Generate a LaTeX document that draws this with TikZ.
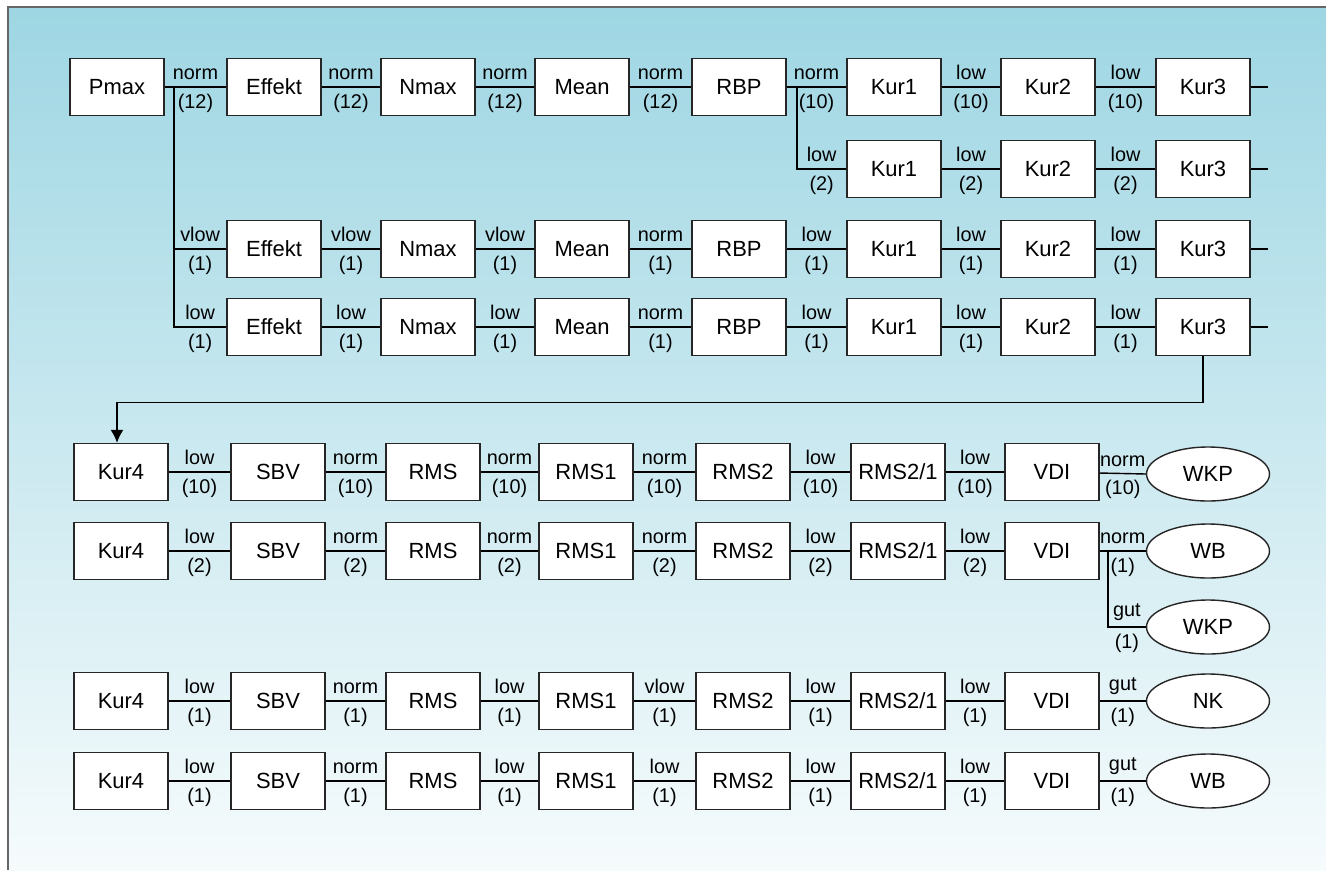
\documentclass[tikz,border=0pt]{standalone}
\usepackage{fontspec}
\setmainfont{Liberation Sans}
\usetikzlibrary{shapes.geometric,arrows.meta}
\newcommand{\blockfont}{\fontsize{12.5}{14}\selectfont}
\newcommand{\labfont}{\fontsize{11.3}{12}\selectfont}
\definecolor{bgtop}{RGB}{158,214,227}
\definecolor{bgmid}{RGB}{204,236,243}
\definecolor{bgbot}{RGB}{246,251,252}
\begin{document}
\begin{tikzpicture}[x=0.02cm, y=-0.02cm, line width=0.8pt, >={Latex[length=2.6mm,width=2.6mm]},
  block/.style={draw=black!85, fill=white, minimum width=1.88cm, minimum height=1.14cm, inner sep=0pt, font=\blockfont},
  result/.style={ellipse, draw=black!85, fill=white, minimum width=2.46cm, minimum height=1.08cm, inner sep=0pt, font=\blockfont},
  cls/.style={above, inner sep=3.5pt, font=\labfont},
  cnt/.style={below, inner sep=3.5pt, font=\labfont}]
\useasboundingbox (0,0) rectangle (1326,870);
% Hintergrund
\shade[top color=bgtop, middle color=bgmid, bottom color=bgbot] (8,7) rectangle (1326,870);
\draw[black!60] (8,870) -- (8,7) -- (1326,7);
% Zeile 1
\node[block] (pmax) at (117,87) {Pmax};
\node[block] (effa) at (274,87) {Effekt};
\node[block] (nmaxa) at (428,87) {Nmax};
\node[block] (meana) at (582,87) {Mean};
\node[block] (rbpa) at (739,87) {RBP};
\node[block] (kur1a) at (894,87) {Kur1};
\node[block] (kur2a) at (1048,87) {Kur2};
\node[block] (kur3a) at (1203,87) {Kur3};
\coordinate (enda) at (1268,87);
\draw (pmax) -- node[cls]{norm} node[cnt]{(12)} (effa);
\draw (effa) -- node[cls]{norm} node[cnt]{(12)} (nmaxa);
\draw (nmaxa) -- node[cls]{norm} node[cnt]{(12)} (meana);
\draw (meana) -- node[cls]{norm} node[cnt]{(12)} (rbpa);
\draw (rbpa) -- node[cls]{norm} node[cnt]{(10)} (kur1a);
\draw (kur1a) -- node[cls]{low} node[cnt]{(10)} (kur2a);
\draw (kur2a) -- node[cls]{low} node[cnt]{(10)} (kur3a);
\draw (kur3a) -- (enda);
% Zeile 2
\node[block] (kur1b) at (894,169) {Kur1};
\node[block] (kur2b) at (1048,169) {Kur2};
\node[block] (kur3b) at (1203,169) {Kur3};
\coordinate (jr) at (797,87);
\coordinate (endb) at (1268,169);
\draw (jr) |- node[cls,pos=.75]{low} node[cnt,pos=.75]{(2)} (kur1b);
\draw (kur1b) -- node[cls]{low} node[cnt]{(2)} (kur2b);
\draw (kur2b) -- node[cls]{low} node[cnt]{(2)} (kur3b);
\draw (kur3b) -- (endb);
% Zeile 3
\node[block] (effc) at (274,249) {Effekt};
\node[block] (nmaxc) at (428,249) {Nmax};
\node[block] (meanc) at (582,249) {Mean};
\node[block] (rbpc) at (739,249) {RBP};
\node[block] (kur1c) at (894,249) {Kur1};
\node[block] (kur2c) at (1048,249) {Kur2};
\node[block] (kur3c) at (1203,249) {Kur3};
\coordinate (jp) at (174,87);
\coordinate (endc) at (1268,249);
\draw (jp) |- node[cls,pos=.75]{vlow} node[cnt,pos=.75]{(1)} (effc);
\draw (effc) -- node[cls]{vlow} node[cnt]{(1)} (nmaxc);
\draw (nmaxc) -- node[cls]{vlow} node[cnt]{(1)} (meanc);
\draw (meanc) -- node[cls]{norm} node[cnt]{(1)} (rbpc);
\draw (rbpc) -- node[cls]{low} node[cnt]{(1)} (kur1c);
\draw (kur1c) -- node[cls]{low} node[cnt]{(1)} (kur2c);
\draw (kur2c) -- node[cls]{low} node[cnt]{(1)} (kur3c);
\draw (kur3c) -- (endc);
% Zeile 4
\node[block] (effd) at (274,327) {Effekt};
\node[block] (nmaxd) at (428,327) {Nmax};
\node[block] (meand) at (582,327) {Mean};
\node[block] (rbpd) at (739,327) {RBP};
\node[block] (kur1d) at (894,327) {Kur1};
\node[block] (kur2d) at (1048,327) {Kur2};
\node[block] (kur3d) at (1203,327) {Kur3};
\coordinate (endd) at (1268,327);
\draw (jp) |- node[cls,pos=.75]{low} node[cnt,pos=.75]{(1)} (effd);
\draw (effd) -- node[cls]{low} node[cnt]{(1)} (nmaxd);
\draw (nmaxd) -- node[cls]{low} node[cnt]{(1)} (meand);
\draw (meand) -- node[cls]{norm} node[cnt]{(1)} (rbpd);
\draw (rbpd) -- node[cls]{low} node[cnt]{(1)} (kur1d);
\draw (kur1d) -- node[cls]{low} node[cnt]{(1)} (kur2d);
\draw (kur2d) -- node[cls]{low} node[cnt]{(1)} (kur3d);
\draw (kur3d) -- (endd);
% Zeile 5
\node[block] (kur4e) at (121,472) {Kur4};
\node[block] (sbve) at (278,472) {SBV};
\node[block] (rmse) at (433,472) {RMS};
\node[block] (rms1e) at (586,472) {RMS1};
\node[block] (rms2e) at (743,472) {RMS2};
\node[block] (rms21e) at (898,472) {RMS2/1};
\node[block] (vdie) at (1052,472) {VDI};
\node[result] (wkpe) at (1208,474) {WKP};
\draw[->] (kur3d.south) -- ++(0,46) -| ([xshift=-0.08cm]kur4e.north);
\draw (kur4e) -- node[cls]{low} node[cnt]{(10)} (sbve);
\draw (sbve) -- node[cls]{norm} node[cnt]{(10)} (rmse);
\draw (rmse) -- node[cls]{norm} node[cnt]{(10)} (rms1e);
\draw (rms1e) -- node[cls]{norm} node[cnt]{(10)} (rms2e);
\draw (rms2e) -- node[cls]{low} node[cnt]{(10)} (rms21e);
\draw (rms21e) -- node[cls]{low} node[cnt]{(10)} (vdie);
\draw (vdie) -- node[cls]{norm} node[cnt]{(10)} (wkpe.west);
% Zeile 6
\node[block] (kur4f) at (121,551) {Kur4};
\node[block] (sbvf) at (278,551) {SBV};
\node[block] (rmsf) at (433,551) {RMS};
\node[block] (rms1f) at (586,551) {RMS1};
\node[block] (rms2f) at (743,551) {RMS2};
\node[block] (rms21f) at (898,551) {RMS2/1};
\node[block] (vdif) at (1052,551) {VDI};
\node[result] (wbf) at (1208,551) {WB};
\node[result] (wkpf) at (1208,627) {WKP};
\coordinate (jv) at (1108,551);
\draw (kur4f) -- node[cls]{low} node[cnt]{(2)} (sbvf);
\draw (sbvf) -- node[cls]{norm} node[cnt]{(2)} (rmsf);
\draw (rmsf) -- node[cls]{norm} node[cnt]{(2)} (rms1f);
\draw (rms1f) -- node[cls]{norm} node[cnt]{(2)} (rms2f);
\draw (rms2f) -- node[cls]{low} node[cnt]{(2)} (rms21f);
\draw (rms21f) -- node[cls]{low} node[cnt]{(2)} (vdif);
\draw (vdif) -- node[cls]{norm} node[cnt]{(1)} (wbf);
\draw (jv) |- node[cls,pos=.75]{gut} node[cnt,pos=.75]{(1)} (wkpf);
% Zeile 7
\node[block] (kur4g) at (121,701) {Kur4};
\node[block] (sbvg) at (278,701) {SBV};
\node[block] (rmsg) at (433,701) {RMS};
\node[block] (rms1g) at (586,701) {RMS1};
\node[block] (rms2g) at (743,701) {RMS2};
\node[block] (rms21g) at (898,701) {RMS2/1};
\node[block] (vdig) at (1052,701) {VDI};
\node[result] (nkg) at (1208,701) {NK};
\draw (kur4g) -- node[cls]{low} node[cnt]{(1)} (sbvg);
\draw (sbvg) -- node[cls]{norm} node[cnt]{(1)} (rmsg);
\draw (rmsg) -- node[cls]{low} node[cnt]{(1)} (rms1g);
\draw (rms1g) -- node[cls]{vlow} node[cnt]{(1)} (rms2g);
\draw (rms2g) -- node[cls]{low} node[cnt]{(1)} (rms21g);
\draw (rms21g) -- node[cls]{low} node[cnt]{(1)} (vdig);
\draw (vdig) -- node[cls]{gut} node[cnt]{(1)} (nkg);
% Zeile 8
\node[block] (kur4h) at (121,781) {Kur4};
\node[block] (sbvh) at (278,781) {SBV};
\node[block] (rmsh) at (433,781) {RMS};
\node[block] (rms1h) at (586,781) {RMS1};
\node[block] (rms2h) at (743,781) {RMS2};
\node[block] (rms21h) at (898,781) {RMS2/1};
\node[block] (vdih) at (1052,781) {VDI};
\node[result] (wbh) at (1208,781) {WB};
\draw (kur4h) -- node[cls]{low} node[cnt]{(1)} (sbvh);
\draw (sbvh) -- node[cls]{norm} node[cnt]{(1)} (rmsh);
\draw (rmsh) -- node[cls]{low} node[cnt]{(1)} (rms1h);
\draw (rms1h) -- node[cls]{low} node[cnt]{(1)} (rms2h);
\draw (rms2h) -- node[cls]{low} node[cnt]{(1)} (rms21h);
\draw (rms21h) -- node[cls]{low} node[cnt]{(1)} (vdih);
\draw (vdih) -- node[cls]{gut} node[cnt]{(1)} (wbh);
\end{tikzpicture}
\end{document}
